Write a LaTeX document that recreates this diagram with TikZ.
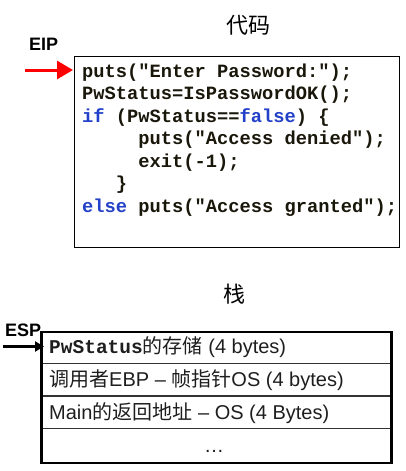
\documentclass[tikz,border=0pt]{standalone}
\usepackage{fontspec}
\setmainfont{Liberation Sans}
\newfontfamily\mono{Liberation Mono}
\newfontfamily\cjk{Noto Sans CJK SC}
\usetikzlibrary{arrows.meta}
\definecolor{kw}{RGB}{35,65,200}
\definecolor{codetxt}{RGB}{25,22,10}
\definecolor{rowtxt}{RGB}{30,30,30}
\tikzset{
  codeline/.style={anchor=base west, inner sep=0pt, text=codetxt, font=\mono\bfseries\fontsize{18.75}{22}\selectfont},
  rowline/.style={anchor=base west, inner sep=0pt, text=rowtxt, font=\fontsize{20}{24}\selectfont},
  regname/.style={anchor=base west, inner sep=0pt, font=\bfseries\fontsize{18}{22}\selectfont},
  titletext/.style={inner sep=0pt, font=\cjk\fontsize{22}{26}\selectfont},
  divider/.style={draw=black!80, line width=1.4pt}
}
\newcommand{\kwd}[1]{\textcolor{kw}{#1}}
\begin{document}
\begin{tikzpicture}[x=1pt,y=-1pt]
\useasboundingbox (0,0) rectangle (405,471);
% code section
\node[titletext] (codetitle) at (248,25) {代码};
\node[regname] (eip) at (29,50.7) {EIP};
\node[draw, line width=1.3pt, anchor=north west, minimum width=325pt, minimum height=191pt, inner sep=0pt] (code) at (74,56) {};
\coordinate (eipstart) at (25,70);
\coordinate (eiptip) at (73,70);
\draw[red, line width=3pt, -{Triangle[length=16pt,width=18pt]}] (eipstart) -- (eiptip);
\node[codeline] (l1) at (82,77) {puts("Enter Password:");};
\node[codeline] (l2) at (82,99.5) {PwStatus=IsPasswordOK();};
\node[codeline] (l3) at (82,122) {\kwd{if} (PwStatus==\kwd{false}) \{};
\node[codeline] (l4) at (138.25,144.5) {puts("Access denied");};
\node[codeline] (l5) at (138.25,167) {exit(-1);};
\node[codeline] (l6) at (115.75,189.5) {\}};
\node[codeline] (l7) at (82,212) {\kwd{else} puts("Access granted");};
% stack section
\node[titletext] (stacktitle) at (234,294) {栈};
\draw[divider] (40,363.3) -- (390,363.3);
\draw[divider] (40,396) -- (390,396);
\draw[divider] (40,428.3) -- (390,428.3);
\node[draw, line width=2.5pt, anchor=north west, minimum width=350pt, minimum height=131pt, inner sep=0pt] (stack) at (40,330.7) {};
\node[regname] (esp) at (5,336) {ESP};
\coordinate (espstart) at (3,346.5);
\coordinate (esptip) at (44,346.5);
\draw[black, line width=3pt, -{Triangle[length=9pt,width=10pt]}] (espstart) -- (esptip);
\node[rowline] (r1) at (49,353) {{\mono\bfseries\fontsize{19.5}{24}\selectfont PwStatus}{\cjk 的存储} (4 bytes)};
\node[rowline] (r2) at (49,386.7) {{\cjk 调用者}EBP – {\cjk 帧指针}OS (4 bytes)};
\node[rowline] (r3) at (49,419.5) {Main{\cjk 的返回地址} – OS (4 Bytes)};
\node[rowline] (r4) at (204,452) {…};
\end{tikzpicture}
\end{document}
